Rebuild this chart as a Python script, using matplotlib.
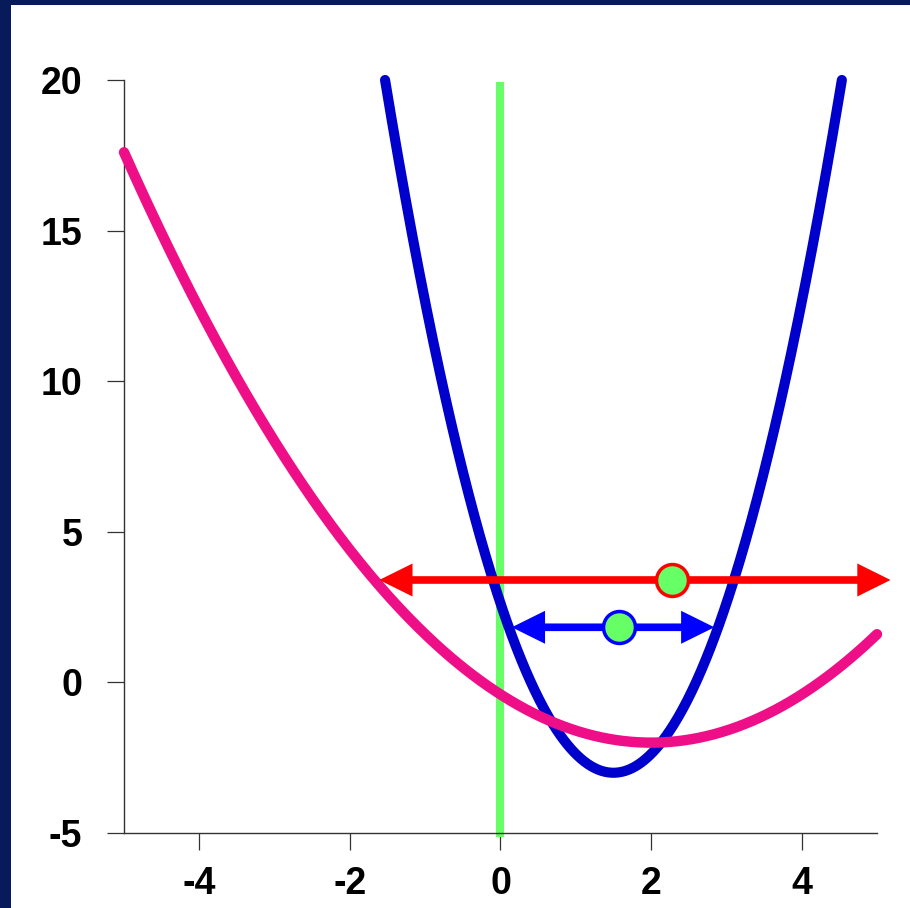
import numpy as np
import matplotlib.pyplot as plt

# parabolas y = a*(x - h)^2 + k
blue_a, blue_h, blue_k = 2.5, 1.5, -3.0
pink_a, pink_h, pink_k = 0.4, 2.0, -2.0

# horizontal double arrows: (x_left, x_right, y, dot_x)
red_arrow = (-1.61, 5.18, 3.40, 2.28)
blue_arrow = (0.15, 2.84, 1.83, 1.57)

# vertical green line x=0
green_x = 0.0
green_y = (-5.0, 19.8)

x_ticks = [-4, -2, 0, 2, 4]
y_ticks = [-5, 0, 5, 10, 15, 20]

plt.rcParams['font.family'] = ['Liberation Sans', 'DejaVu Sans']
plt.rcParams['axes.unicode_minus'] = False

fig = plt.figure(figsize=(9.1, 9.08), dpi=100, facecolor='#071b5a')
# white panel over navy frame
fig.patches.append(plt.Rectangle((11 / 910, 0), 1, 1 - 5 / 908, transform=fig.transFigure,
                                 facecolor='white', edgecolor='none', zorder=-10))
ax = fig.add_axes([124 / 910, 75 / 908, 753 / 910, 753 / 908])
ax.set_facecolor('none')

# blue parabola, drawn between its y=20 crossings
half = np.sqrt((20 - blue_k) / blue_a)
xb = np.linspace(blue_h - half, blue_h + half, 400)
ax.plot(xb, blue_a * (xb - blue_h) ** 2 + blue_k, color='#0000cc', lw=7.3,
        solid_capstyle='round', zorder=3, clip_on=False)

xp = np.linspace(-5, 5, 400)
ax.plot(xp, pink_a * (xp - pink_h) ** 2 + pink_k, color='#ee0f88', lw=7.5,
        solid_capstyle='round', zorder=4, clip_on=False)

ax.plot([green_x, green_x], green_y, color='#66ff66', lw=5.8, zorder=2, clip_on=False)

for (x0, x1, y, xd), col in [(red_arrow, '#ff0000'), (blue_arrow, '#0000ff')]:
    ax.annotate('', xy=(x1, y), xytext=(x0, y), annotation_clip=False,
                arrowprops=dict(arrowstyle='<|-|>,head_length=1.25,head_width=0.62',
                                mutation_scale=12, lw=5.5, color=col, joinstyle='miter',
                                capstyle='butt', shrinkA=0, shrinkB=0), zorder=5)
    ax.plot(xd, y, 'o', ms=23, mfc='#66ff66', mec=col, mew=2.5, zorder=6, clip_on=False)

ax.set_xlim(-5, 5)
ax.set_ylim(-5, 20)
ax.set_xticks(x_ticks)
ax.set_yticks(y_ticks)
ax.spines['top'].set_visible(False)
ax.spines['right'].set_visible(False)
for s in ('left', 'bottom'):
    ax.spines[s].set_color('#333333')
    ax.spines[s].set_linewidth(1.0)
ax.tick_params(axis='both', length=12, width=0.9, color='#333333',
               labelsize=27, pad=12)
ax.tick_params(axis='y', pad=18)
for lab in ax.get_xticklabels() + ax.get_yticklabels():
    lab.set_fontweight('bold')

fig.savefig('out.png', dpi=100, facecolor=fig.get_facecolor())
